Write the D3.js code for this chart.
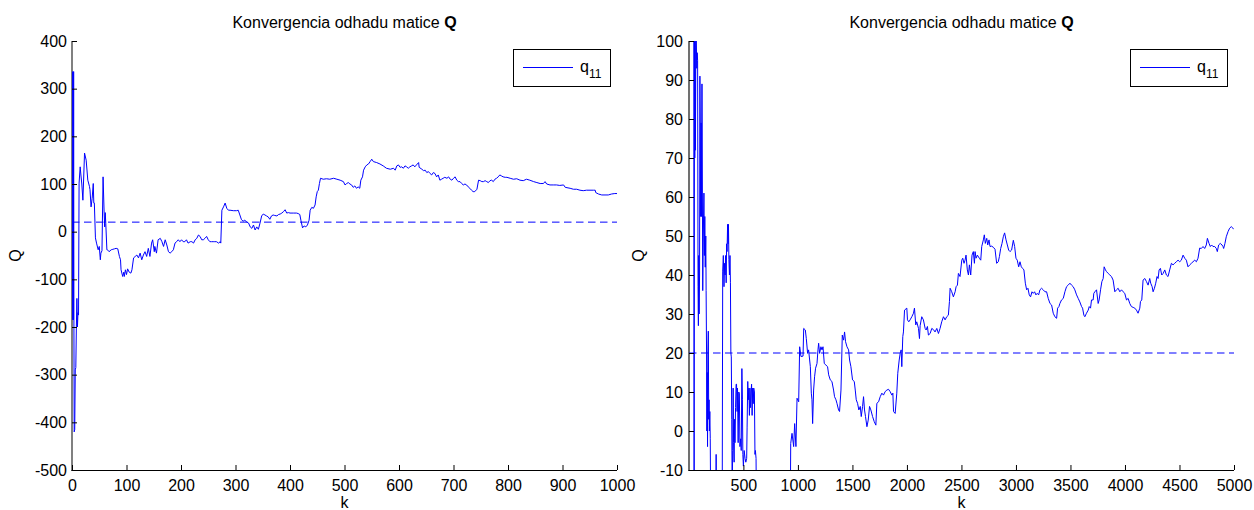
<!DOCTYPE html>
<html>
<head>
<meta charset="utf-8">
<script src="https://cdn.jsdelivr.net/npm/d3@7"></script>
<style>
  html, body { margin: 0; padding: 0; background: #fff; }
  svg { display: block; font-family: "Liberation Sans", Arial, Helvetica, sans-serif; }
</style>
</head>
<body>
<svg id="fig" width="1254" height="510"></svg>
<script>
// ---- texts ----
const titleMain = "Konvergencia odhadu matice ";
const titleBold = "Q";
const yLabel = "Q";
const xLabel = "k";
const legendName = "q";
const legendSub = "11";
const trueQ = 20;   // reference value (dashed line)

// ---- ticks ----
const leftXTicks  = [0, 100, 200, 300, 400, 500, 600, 700, 800, 900, 1000];
const leftYTicks  = [-500, -400, -300, -200, -100, 0, 100, 200, 300, 400];
const rightXTicks = [500, 1000, 1500, 2000, 2500, 3000, 3500, 4000, 4500, 5000];
const rightYTicks = [-10, 0, 10, 20, 30, 40, 50, 60, 70, 80, 90, 100];

// ---- q11 estimate, run of 1000 steps: [k, q11] ----
const q11Run1000 = [
  [1,336],[1.5,-185],[2,150],[2.5,-185],[3,336],[3.5,-185],[4,-420],[5,-415],[6,-290],[7,-285],[8,-200],[9,-140],[10,-200],[11,-170],[12,-175],
  [13,102],[15,136],[16,123],[18,100],[20,66],[23,165],[26,150],[29,108],[32,95],[33,88],[35,52],[37,70],[39,101],
  [40,60],[41,60],[43,-13],[45,-24],[48,-38],[50,-31],[52,-59],[53,-45],[55,-40],[57,115],[59,39],[60,10],[61,40],
  [62,17],[64,-38],[65,-38],[68,-42],[72,-38],[75,-37],[78,-36],[81,-35],[84,-36],[87,-52],[89,-59],[90,-80],
  [93,-94],[95,-85],[96,-94],[98,-80],[100,-90],[102,-78],[105,-85],[108,-87],[110,-80],
  [113,-55],[116,-52],[119,-49],[122,-55],[125,-45],[128,-59],[131,-49],[134,-42],[137,-52],[140,-35],[143,-52],
  [146,-24],[148,-17],[151,-42],[152,-31],[155,-45],[158,-17],[162,-14],[165,-21],[168,-31],[171,-17],[174,-28],
  [177,-42],[180,-45],[183,-42],[186,-38],[189,-24],[192,-21],[195,-17],[198,-21],[201,-17],[204,-21],[207,-21],
  [210,-17],[213,-24],[217,-21],[220,-21],[223,-24],[226,-17],[229,-14],[232,-7],[235,-10],[238,-17],[241,-17],
  [244,-14],[247,-10],[250,-17],[253,-21],[256,-21],[259,-21],[262,-21],[265,-21],[269,-24],[272,-21],[273,-24],
  [275,45],[278,52],[281,60],[284,49],[287,45],[290,45],[296,44],[302,44],[305,45],[308,35],[311,25],[314,22],
  [317,24],[321,20],[324,18],[327,10],[330,7],[333,14],[336,3.5],[339,10],[342,5],[345,18],[348,33],[351,37],
  [354,35],[357,33],[360,31],[363,26],[366,33],[369,35],[372,34],[376,33],[379,36],[382,37],[385,39],[388,42],
  [391,46],[394,39],[397,40],[400,39],[406,39],[412,39],[415,38],[418,36],[420,24],[423,8],[426,12],[429,10],
  [432,14],[435,24],[437,45],[440,51],[443,49],[446,56],[448,73],[450,84],[452,87],[454,101],[456,112],[461,110],
  [467,111],[473,110],[480,112],[486,110],[492,108],[498,105],[501,98],[504,101],[507,103],[510,100],[513,98],
  [516,93],[519,96],[522,91],[525,94],[528,91],[530,108],[533,115],[535,129],[538,136],[541,140],[544,142],
  [547,147],[550,152],[553,147],[559,145],[565,142],[571,138],[577,133],[584,131],[590,133],[593,129],[596,138],
  [599,140],[602,135],[605,136],[608,133],[611,138],[614,136],[617,133],[620,136],[623,138],[626,140],[629,136],
  [632,140],[636,145],[637,135],[642,131],[645,128],[648,129],[651,124],[654,126],[657,122],[660,119],[663,124],
  [666,122],[669,115],[672,119],[675,108],[678,110],[681,112],[684,114],[688,112],[691,115],[694,110],[697,108],
  [700,112],[703,115],[706,108],[709,105],[712,105],[715,101],[718,98],[721,100],[724,98],[727,94],[730,91],
  [733,87],[736,84],[739,84],[743,89],[746,108],[749,107],[752,105],[755,105],[758,107],[761,105],[764,103],
  [767,107],[770,108],[773,105],[776,110],[779,112],[782,115],[785,119],[788,117],[791,115],[795,114],[798,114],
  [804,112],[810,110],[816,111],[822,108],[828,107],[834,110],[840,108],[847,105],[853,103],[859,101],[865,101],
  [868,105],[871,100],[877,98],[883,98],[889,98],[895,97],[902,98],[905,93],[914,91],[920,89],[926,89],[932,87],
  [938,86],[944,87],[957,87],[960,87],[961,82],[966,79],[972,77],[978,77],[984,77],[990,79],[996,80],[1000,80]
];

// ---- q11 estimate, run of 5000 steps: [k, q11] ----
const q11Run5000 = [
  [1,120],[10,105],[20,110],[35,103],[45,101],[48,-40],[51,100],[54,70],[57,100],[60,72],[64,100],[68,100],
  [72,93],[76,97],[80,95],[84,37],[87,27],[90,45],[94,30],[98,40],[101,91],[104,80],[108,55],[112,79],[115,55],
  [120,89],[124,60],[127,36],[132,50],[138,61],[142,45],[146,55],[150,42],[155,50],[158,36],[162,20],[165,0],
  [168,15],[171,-4],[174,20],[178,25.6],[182,3],[185,8],[188,0],[192,5],[196,-2],[202,-30],[245,-30],[250,-6],
  [255,-30],[305,-30],[310,41],[316,45],[322,37],[327,43],[332,40],[337,45],[342,38],[346,48],[350,46],[355,53],
  [359,48],[363,53],[367,44],[372,40],[377,45],[381,38],[385,20],[389,19],[393,3],[397,-15],[402,-5],[406,11],
  [410,-3],[415,-8],[419,3],[423,-3],[428,6],[433,12],[437,12],[442,5],[446,11],[452,-3],[457,10],[463,9.7],
  [468,-4],[475,-2],[480,-5],[486,16],[491,8],[495,-6],[500,-9],[507,-5],[515,-7],[522,-8],[530,-7],[534,1],
  [540,12.7],[545,8],[550,11],[555,4],[560,11],[565,6],[570,10],[575,12],[580,4],[585,11],[590,7],[595,11],
  [601,10],[606,-6],[610,-5],[616,-7],[622,-30],[700,-35],[800,-40],[900,-30],[928,-30],
  [934,-3.2],[946,-0.6],[961,-4],[970,1.9],[982,-4],[992,8.4],[1007,7.5],[1016,21.6],[1028,19.1],[1047,19.2],
  [1053,26.3],[1068,25.9],[1077,23.7],[1089,19.9],[1098,20.8],[1114,16.5],[1123,9.7],[1129,8],[1135,1.9],
  [1144,10.5],[1153,13.9],[1162,16.1],[1175,17.3],[1184,20.8],[1190,22.5],[1199,19.9],[1211,21.6],[1221,20.8],
  [1230,21.6],[1242,17.3],[1257,16.9],[1272,16.5],[1282,14.4],[1297,13.1],[1312,12.7],[1327,10.5],[1336,8.8],
  [1349,8],[1358,7.1],[1373,5.4],[1382,5],[1395,10.5],[1407,24.6],[1419,23.3],[1428,25.4],[1437,22.9],
  [1450,21.6],[1465,20.8],[1474,18.2],[1486,16.5],[1501,13.1],[1517,12.7],[1526,10.5],[1535,8],[1547,7.1],
  [1559,5.4],[1572,6.3],[1581,3.7],[1593,6.3],[1602,8.8],[1611,5.4],[1620,3.7],[1633,1.1],[1645,2.8],
  [1657,6.3],[1669,5.4],[1685,3.7],[1700,2.4],[1715,1.5],[1724,7.1],[1740,7.5],[1755,8.8],[1770,9.7],
  [1785,9.2],[1800,10.1],[1816,10.5],[1831,10.7],[1846,10.1],[1862,9.2],[1871,9.7],[1877,5],[1892,4.5],
  [1907,9.7],[1916,14.8],[1929,18.2],[1938,19.9],[1947,20.8],[1953,16.5],[1962,24.2],[1968,25.4],[1978,31],
  [1999,31.5],[2005,28.5],[2017,28],[2029,28.5],[2045,29.3],[2060,30.2],[2069,31.5],[2081,27.2],[2090,28],
  [2106,26.3],[2115,23.7],[2121,27],[2136,29.3],[2151,28.5],[2167,26.3],[2176,25.9],[2188,26.8],[2197,24.6],
  [2213,25],[2228,26.3],[2243,26],[2258,25.4],[2274,26.3],[2289,25],[2304,26.3],[2319,28],[2335,29.3],
  [2350,28.5],[2365,29.3],[2380,29.7],[2390,33.2],
  [2396,36.6],[2411,35.7],[2426,34.4],[2442,35.7],[2451,37],[2463,37.4],[2472,40.4],[2487,39.6],[2503,43.8],
  [2512,44.3],[2524,43],[2533,43.8],[2542,45.1],[2554,41.3],[2564,40],[2573,42.6],[2585,40],[2597,45.1],
  [2609,46],[2619,43],[2625,46],[2634,44.3],[2646,45.1],[2664,44.3],[2677,43.8],[2686,47.3],[2701,49],
  [2710,50.3],[2719,48.1],[2732,49.4],[2741,47.7],[2753,49],[2762,47.3],[2777,47.4],[2793,47.1],[2808,46.6],
  [2823,43],[2838,43.4],[2848,44.7],[2860,46.8],[2872,48.1],[2884,49.8],[2896,50.8],[2909,49],[2921,47.7],
  [2933,46.4],[2945,46],[2960,46.4],[2976,48.9],[2988,47.3],[3000,44.3],[3012,43.8],[3025,42.1],[3037,43.4],
  [3049,42.1],[3061,41.7],[3073,41.3],[3086,37.9],[3098,36.2],[3110,36.6],[3122,34.9],[3134,34.4],[3147,35.7],
  [3159,35.3],[3171,35.7],[3183,34.9],[3195,35.3],[3208,34.9],[3220,36.2],[3235,36.6],[3250,36.2],[3266,35.7],
  [3281,35.7],[3296,34],[3312,32.7],[3327,32.3],[3342,30.2],[3357,29.3],[3373,28.9],[3382,31.5],[3394,31.9],
  [3403,32.7],[3418,33.6],[3434,34],[3449,35.7],[3464,37],[3479,37.4],[3495,37.9],[3510,37.4],[3525,37],
  [3540,36.2],[3556,34.9],[3571,34],[3586,33.1],[3602,31.9],[3611,31.5],[3623,29.7],[3632,29.3],[3647,30.2],
  [3663,31],[3672,31.9],[3684,31.5],[3693,33.6],[3708,33.6],[3714,35.3],[3724,35.7],[3739,36.2],[3754,32.7],
  [3763,33.6],[3776,36.2],[3788,38.3],[3800,39.1],[3809,42.1],[3821,41.3],[3830,40.9],[3846,40.4],[3861,40],
  [3876,39.6],[3891,38.7],[3907,35.7],[3922,36.2],[3937,36.6],[3953,35.7],[3968,36.2],[3983,35.7],[3998,35.3],
  [4014,33.6],[4029,34],[4044,32.7],[4059,31.9],[4075,31.7],[4090,31.5],[4105,31],[4120,30.2],[4136,31.5],
  [4142,33.2],[4154,33.6],[4166,38.7],[4182,39.1],[4197,38.3],[4212,37.4],[4227,39.1],[4236,37.9],[4249,37],
  [4258,35.7],[4270,36.6],[4282,37.9],[4294,39.6],[4304,39.1],[4313,41.3],[4325,41.7],[4337,40],[4350,40.4],
  [4365,41.3],[4380,40],[4395,39.6],[4410,41.3],[4426,43],[4441,42.6],[4456,43],[4471,43.4],[4487,43.8],
  [4502,43.4],[4517,43.8],[4533,45.1],[4548,44.3],[4563,43.8],[4578,42.1],[4594,42.6],[4609,43],[4624,43.4],
  [4640,43.8],[4655,43.4],[4670,44.3],[4685,46.9],[4700,46.8],[4716,47.3],[4731,46.8],[4746,47.7],[4756,49.4],
  [4771,48.1],[4783,47.3],[4795,47.7],[4807,47.3],[4823,47.3],[4838,46.8],[4847,46],[4859,47.7],[4874,48.1],
  [4890,47.7],[4899,47.3],[4905,46.8],[4917,48.1],[4929,49.8],[4945,51.1],[4960,52],[4975,52.4],[4990,52],
  [5000,51.7]
];

// ---- drawing ----
const svg = d3.select("#fig");
const FONT = 16;
const BLUE = "#0000ff";
const plainNumber = d => String(d);   // ASCII hyphen for negatives

function drawPanel(opt) {
  const { left, right, top, bottom } = opt.box;
  const x = d3.scaleLinear().domain(opt.xDomain).range([left, right]);
  const y = d3.scaleLinear().domain(opt.yDomain).range([bottom, top]);
  const g = svg.append("g");

  const clipId = "clip-" + opt.id;
  g.append("clipPath").attr("id", clipId)
    .append("rect").attr("x", left - 1).attr("y", top)
    .attr("width", right - left + 1).attr("height", bottom - top);

  // axis lines (under the data)
  g.append("line").attr("x1", left).attr("x2", left)
    .attr("y1", top).attr("y2", bottom + 1)
    .attr("stroke", opt.yAxisColor).attr("stroke-width", opt.yAxisWidth);
  g.append("line").attr("x1", left - 0.5).attr("x2", right)
    .attr("y1", bottom + 0.5).attr("y2", bottom + 0.5)
    .attr("stroke", "#000").attr("stroke-width", 1);

  const plot = g.append("g").attr("clip-path", `url(#${clipId})`);

  // estimated series
  const line = d3.line().x(d => x(d[0])).y(d => y(d[1]));
  plot.append("path").datum(opt.series)
    .attr("fill", "none").attr("stroke", BLUE).attr("stroke-width", 1)
    .attr("stroke-linejoin", "round")
    .attr("d", line);

  // reference value
  plot.append("line")
    .attr("x1", x(opt.xDomain[0])).attr("x2", x(opt.xDomain[1]))
    .attr("y1", y(trueQ)).attr("y2", y(trueQ))
    .attr("stroke", BLUE).attr("stroke-width", 1)
    .attr("stroke-dasharray", "7.5,4.5");

  // axes (ticks pointing inward)
  const xAxis = d3.axisBottom(x).tickValues(opt.xTicks)
    .tickSize(-5).tickSizeOuter(0).tickPadding(10).tickFormat(plainNumber);
  const yAxis = d3.axisLeft(y).tickValues(opt.yTicks)
    .tickSize(-5).tickSizeOuter(0).tickPadding(opt.yPad).tickFormat(plainNumber);

  const gx = g.append("g").attr("transform", `translate(0,${bottom})`).call(xAxis);
  const gy = g.append("g").attr("transform", `translate(${left},0)`).call(yAxis);
  [gx, gy].forEach(a => {
    a.attr("font-size", FONT).attr("font-family", null);
    a.select(".domain").remove();
    a.selectAll(".tick line").attr("stroke", "#000");
    a.selectAll(".tick text").attr("fill", "#000");
  });

  // title
  const t = g.append("text")
    .attr("x", (left + right) / 2).attr("y", 28)
    .attr("text-anchor", "middle").attr("font-size", FONT);
  t.append("tspan").text(titleMain);
  t.append("tspan").attr("font-weight", "bold").text(titleBold);

  // axis labels
  g.append("text")
    .attr("transform", `translate(${opt.yLabelX},${(top + bottom) / 2}) rotate(-90)`)
    .attr("text-anchor", "middle").attr("font-size", FONT).text(yLabel);
  g.append("text")
    .attr("x", (left + right) / 2).attr("y", 508)
    .attr("text-anchor", "middle").attr("font-size", FONT).text(xLabel);

  // legend
  const lw = 97, lh = 37;
  const lx = right - 7 - lw, ly = top + 8;
  const lg = g.append("g").attr("transform", `translate(${lx},${ly})`);
  lg.append("rect").attr("x", 0.5).attr("y", 0.5).attr("width", lw).attr("height", lh)
    .attr("fill", "#fff").attr("stroke", "#000").attr("stroke-width", 1);
  lg.append("line").attr("x1", 10).attr("x2", 60).attr("y1", 18.5).attr("y2", 18.5)
    .attr("stroke", BLUE).attr("stroke-width", 1);
  const lt = lg.append("text").attr("x", 67).attr("y", 23).attr("font-size", FONT);
  lt.append("tspan").text(legendName);
  lt.append("tspan").attr("dy", 6).attr("font-size", 12).text(legendSub);
}

drawPanel({
  id: "a",
  box: { left: 72, right: 617, top: 41, bottom: 470 },
  xDomain: [0, 1000], yDomain: [-500, 400],
  xTicks: leftXTicks, yTicks: leftYTicks,
  series: q11Run1000, yPad: 5, yLabelX: 21,
  yAxisColor: "#808080", yAxisWidth: 2
});

drawPanel({
  id: "b",
  box: { left: 689, right: 1234, top: 41, bottom: 470 },
  xDomain: [1, 5000], yDomain: [-10, 100],
  xTicks: rightXTicks, yTicks: rightYTicks,
  series: q11Run5000, yPad: 6, yLabelX: 644,
  yAxisColor: "#404040", yAxisWidth: 1.5
});
</script>
</body>
</html>
